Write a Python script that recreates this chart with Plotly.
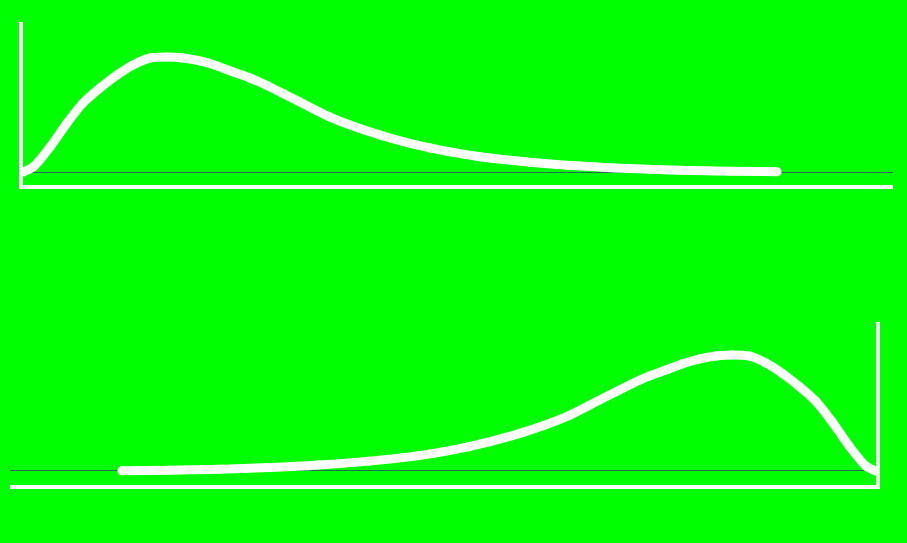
import plotly.graph_objects as go

# curve (same shape, mirrored in the lower panel)
x_vals = [0.00, 0.10, 0.27, 0.44, 0.60, 0.77, 0.94, 1.10, 1.27, 1.44, 1.60,
          1.77, 1.94, 2.10, 2.27, 2.44, 2.60, 2.77, 3.07, 3.57, 4.07, 4.57,
          5.07, 5.57, 6.07, 6.57, 7.07, 7.54]
density = [0.00, 0.043, 0.217, 0.426, 0.600, 0.730, 0.843, 0.930, 0.991, 1.000,
           0.991, 0.965, 0.922, 0.870, 0.817, 0.752, 0.683, 0.609, 0.478, 0.322,
           0.209, 0.132, 0.085, 0.052, 0.030, 0.015, 0.007, 0.002]

GREEN = '#00ff00'
BASE = '#1f7050'

fig = go.Figure()

curve_style = dict(
    mode='lines+markers',
    line=dict(color='white', width=9, shape='spline', smoothing=0.8),
    marker=dict(color='white', size=9),
    showlegend=False,
    hoverinfo='skip',
)

fig.add_trace(go.Scatter(x=x_vals, y=density, xaxis='x', yaxis='y', **curve_style))
fig.add_trace(go.Scatter(x=x_vals, y=density, xaxis='x2', yaxis='y2', **curve_style))

axis_common = dict(showgrid=False, showticklabels=False, ticks='',
                   showline=True, linecolor='white', linewidth=4)

fig.update_layout(
    width=907,
    height=543,
    margin=dict(l=0, r=0, t=0, b=0),
    paper_bgcolor=GREEN,
    plot_bgcolor=GREEN,
    xaxis=dict(domain=[0.0254, 0.9846], range=[0, 8.70], anchor='y',
               zeroline=False, **axis_common),
    yaxis=dict(domain=[0.6593, 0.9595], range=[-0.113, 1.304], anchor='x',
               zeroline=True, zerolinecolor=BASE, zerolinewidth=1, **axis_common),
    xaxis2=dict(domain=[0.011, 0.9658], range=[8.66, 0], anchor='y2',
                zeroline=False, **axis_common),
    yaxis2=dict(domain=[0.1068, 0.407], range=[-0.121, 1.284], anchor='x2',
                side='right', zeroline=True, zerolinecolor=BASE, zerolinewidth=1,
                **axis_common),
)

# drop the default page margin so the green fills the window
fig.write_html("out.html", config={'displayModeBar': False},
               post_script="document.body.style.margin='0';")
